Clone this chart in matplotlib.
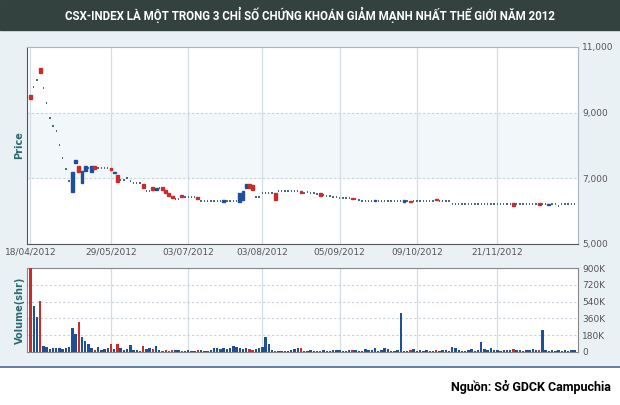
import matplotlib
matplotlib.use("Agg")
import matplotlib.pyplot as plt
from matplotlib.patches import Rectangle
import numpy as np

# ---- data (one entry per trading day) ----
closes = [9400, 9780, 10000, 10200, 9750, 9300, 8840, 8600, 8440, 8010,
          7620, 7290, 6920, 7190, 7560, 7190, 7220, 7380, 7310, 7380,
          7290, 7310, 7310, 7310, 7310, 7250, 7190, 6880, 6950, 6950,
          7000, 6900, 6860, 6860, 6860, 6700, 6620, 6620, 6650, 6700,
          6700, 6650, 6550, 6450, 6400, 6380, 6380, 6420, 6430, 6430,
          6430, 6430, 6380, 6310, 6310, 6310, 6310, 6310, 6310, 6310,
          6330, 6310, 6310, 6310, 6310, 6560, 6600, 6830, 6700, 6650,
          6430, 6430, 6550, 6550, 6550, 6550, 6350, 6620, 6620, 6620,
          6620, 6620, 6620, 6620, 6550, 6550, 6580, 6560, 6540, 6520,
          6450, 6480, 6460, 6460, 6440, 6420, 6400, 6400, 6400, 6400,
          6360, 6360, 6340, 6320, 6310, 6310, 6310, 6340, 6310, 6310,
          6310, 6310, 6310, 6310, 6310, 6310, 6340, 6310, 6260, 6300,
          6310, 6310, 6310, 6310, 6310, 6310, 6350, 6300, 6300, 6300,
          6300, 6220, 6220, 6220, 6220, 6220, 6220, 6220, 6220, 6220,
          6220, 6220, 6220, 6220, 6220, 6220, 6220, 6220, 6220, 6220,
          6150, 6210, 6210, 6210, 6210, 6210, 6210, 6210, 6170, 6200,
          6200, 6220, 6200, 6200, 6150, 6200, 6200, 6200, 6200, 6200]
opens = list(closes)
for i, o in {0: 9550, 3: 10350, 13: 6580, 14: 7470, 15: 7380, 16: 6860, 17: 7220,
             19: 7190, 20: 7380, 25: 7310, 26: 7150, 27: 7100, 35: 6830, 38: 6720,
             39: 6650, 41: 6720, 42: 6650, 43: 6550, 44: 6450, 47: 6480, 52: 6430,
             60: 6280, 65: 6280, 66: 6350, 67: 6700, 68: 6830, 69: 6800, 76: 6550,
             84: 6620, 90: 6560, 100: 6400, 107: 6300, 116: 6280, 118: 6320,
             126: 6380, 150: 6230, 158: 6230, 161: 6170}.items():
    opens[i] = o

volumes = [900, 490, 375, 545, 60, 50, 30, 40, 45, 40,
           35, 40, 50, 257, 193, 321, 160, 118, 90, 40,
           25, 50, 20, 30, 40, 80, 30, 85, 40, 20,
           30, 70, 20, 25, 15, 60, 30, 40, 30, 60,
           20, 15, 20, 15, 25, 20, 20, 15, 15, 20,
           15, 15, 20, 20, 15, 15, 20, 40, 40, 35,
           40, 30, 45, 60, 50, 40, 30, 45, 30, 20,
           30, 40, 50, 160, 80, 20, 15, 15, 10, 15,
           10, 20, 30, 40, 45, 15, 15, 20, 10, 15,
           15, 20, 15, 15, 20, 25, 20, 15, 15, 20,
           25, 20, 15, 15, 30, 20, 25, 40, 15, 20,
           45, 30, 15, 15, 20, 418, 15, 15, 20, 30,
           15, 20, 15, 20, 10, 15, 20, 15, 25, 20,
           15, 50, 40, 20, 15, 15, 20, 30, 15, 20,
           107, 30, 25, 45, 25, 20, 15, 20, 25, 20,
           30, 25, 20, 15, 20, 25, 30, 20, 25, 236,
           20, 15, 20, 15, 20, 15, 20, 15, 20, 20]
volumes = volumes[:len(closes)]
tick_idx = [0, 25, 49, 72, 96, 120, 145]
tick_labels = ["18/04/2012", "29/05/2012", "03/07/2012", "03/08/2012",
               "05/09/2012", "09/10/2012", "21/11/2012"]

RED = "#cc2b2b"
BLUE = "#1f4f98"
N = len(closes)

fig = plt.figure(figsize=(6.2, 4.05), dpi=100)
fig.patch.set_facecolor("#eaf1f5")
fig.add_artist(Rectangle((0, 0.925), 1, 0.075, transform=fig.transFigure,
                         color="#34423f", zorder=0))
fig.text(0.5, 0.962, "CSX-INDEX LÀ MỘT TRONG 3 CHỈ SỐ CHỨNG KHOÁN GIẢM MẠNH NHẤT THẾ GIỚI NĂM 2012",
         color="white", ha="center", va="center", fontsize=8.3, fontweight="bold",
         family="Roboto")
fig.add_artist(Rectangle((0, 0), 1, 0.093, transform=fig.transFigure,
                         color="white", zorder=0))
fig.add_artist(plt.Line2D([0, 1], [0.093, 0.093], transform=fig.transFigure,
                          color="#4a6a90", lw=1.2))
fig.text(0.985, 0.045, "Nguồn: Sở GDCK Campuchia", ha="right", va="center",
         fontsize=9, fontweight="bold", family="Roboto")

ax = fig.add_axes([0.044, 0.398, 0.888, 0.486])
ax.set_facecolor("white")
ax.axhspan(7000, 9000, color="#f2f7fa", zorder=0)
x = np.arange(N)
for i in x:
    o, c = opens[i], closes[i]
    if o == c:
        ax.plot([i - 0.22, i + 0.22], [c, c], color="#3a5a70", lw=1.3, zorder=3,
                solid_capstyle="butt")
    else:
        col = BLUE if c > o else RED
        ax.add_patch(Rectangle((i - 0.45, min(o, c)), 0.9, abs(c - o),
                               color=col, zorder=3))
ax.set_xlim(-1, N)
ax.set_ylim(5000, 11000)
ax.yaxis.tick_right()
ax.set_yticks([5000, 7000, 9000, 11000])
ax.set_yticklabels(["5,000", "7,000", "9,000", "11,000"], fontsize=6.5, color="#555555")
ax.set_xticks(tick_idx)
ax.set_xticklabels(tick_labels, fontsize=6.5, color="#555555")
ax.tick_params(length=0, pad=3)
for t in tick_idx:
    ax.axvline(t, color="#d3dde5", lw=0.9, zorder=1)
for y in (7000, 9000):
    ax.axhline(y, color="#c8d2da", lw=0.8, ls=(0, (2, 2)), zorder=1)
ax.set_ylabel("Price", fontsize=7, color="#2a6b70", fontweight="bold", labelpad=2)
for s in ax.spines.values():
    s.set_color("#aab6bf")
ax.spines["left"].set_color("#555555")
ax.spines["bottom"].set_color("#555555")

vx = fig.add_axes([0.044, 0.131, 0.888, 0.207])
vx.set_facecolor("white")
vcols = [RED if c < o else BLUE for o, c in zip(opens, closes)]
vx.bar(x, volumes, width=0.75, color=vcols, zorder=3)
vx.set_xlim(-1, N)
vx.set_ylim(0, 900)
vx.yaxis.tick_right()
vx.set_yticks([0, 180, 360, 540, 720, 900])
vx.set_yticklabels(["0", "180K", "360K", "540K", "720K", "900K"], fontsize=6.5, color="#555555")
vx.set_xticks(tick_idx)
vx.set_xticklabels([])
vx.tick_params(length=0, pad=3)
vx.grid(axis="y", color="#c8d2da", lw=0.8, ls=(0, (2, 2)), zorder=1)
for t in tick_idx:
    vx.axvline(t, color="#d3dde5", lw=0.9, zorder=1)
vx.set_ylabel("Volume(shr)", fontsize=7, color="#2a6b70", fontweight="bold", labelpad=2)
for s in vx.spines.values():
    s.set_color("#888888")

fig.savefig("out.png", dpi=100, facecolor=fig.get_facecolor())
